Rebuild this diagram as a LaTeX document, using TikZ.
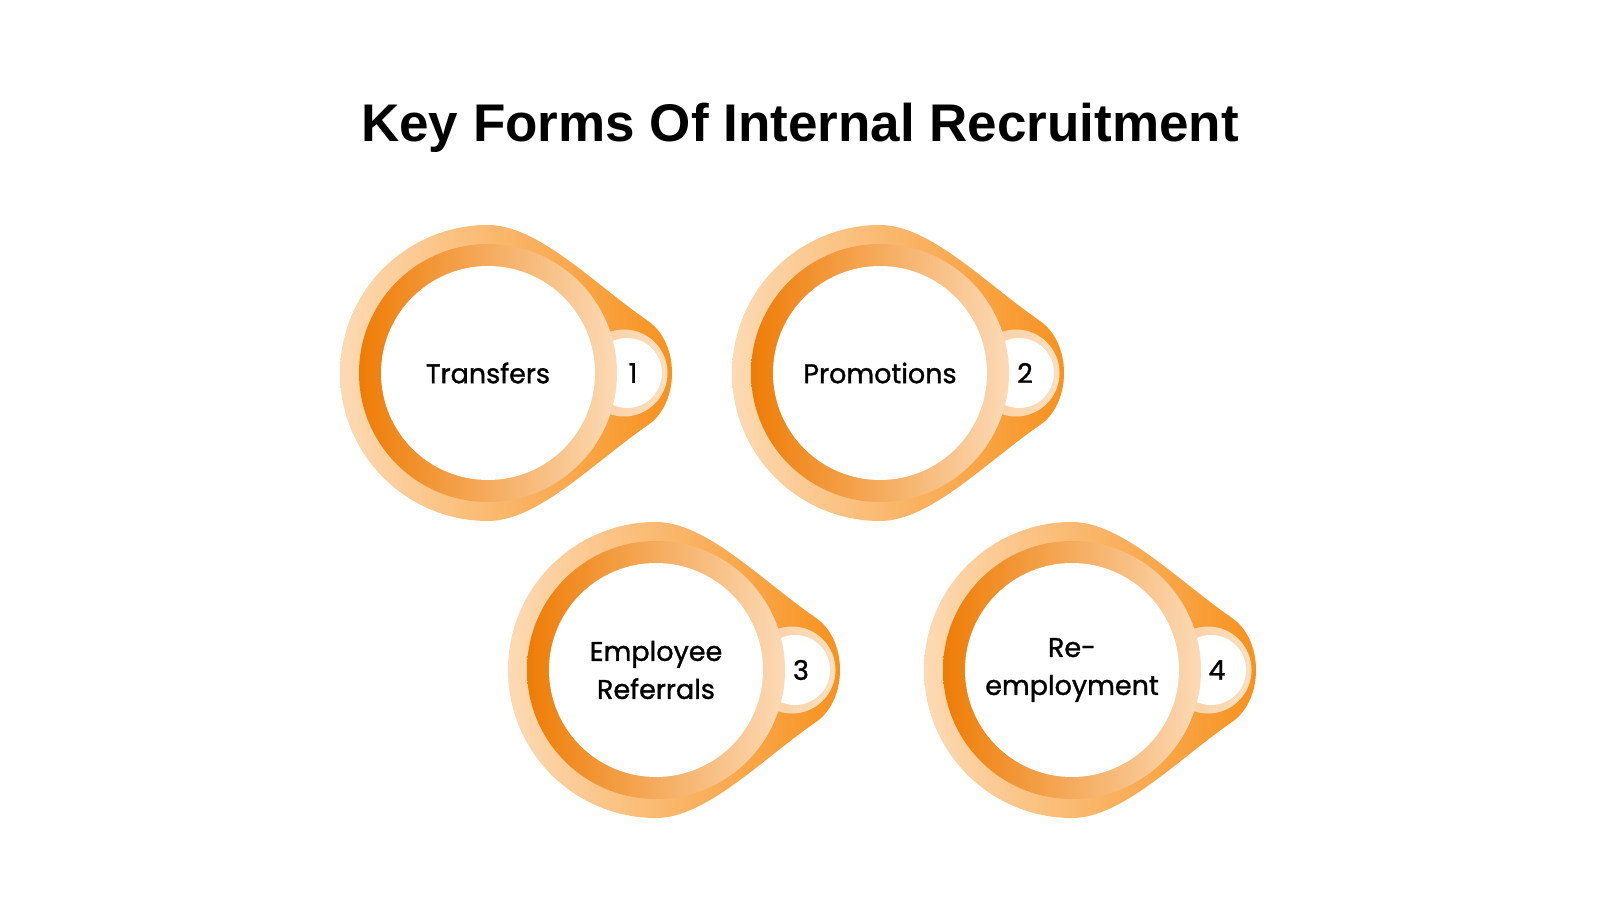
\documentclass[tikz,border=0pt]{standalone}
\usepackage{fontspec}
\setmainfont{Poppins}
\newfontfamily\titlefont{Liberation Sans}
\usetikzlibrary{positioning}

\definecolor{peach}{HTML}{FDDAB4}
\definecolor{tiporange}{HTML}{F7901A}
\definecolor{ringdark}{HTML}{EE7C05}
\definecolor{ringlight}{HTML}{FCDAB6}
\definecolor{smallring}{HTML}{FBCB98}

\begin{document}
\begin{tikzpicture}[x=1pt, y=1pt,
    labelcirc/.style={circle, fill=white, minimum size=214pt, inner sep=0pt, align=center, font=\fontsize{27}{38}\selectfont\addfontfeature{FakeBold=1.2}},
    numcirc/.style={circle, fill=white, minimum size=70pt, inner sep=0pt, font=\fontsize{27}{30}\selectfont\addfontfeature{FakeBold=1.2}}]
  \fill[white] (0,0) rectangle (1600,900);
  \useasboundingbox (0,0) rectangle (1600,900);
  \node (title) at (800,772) {\titlefont\bfseries\fontsize{53}{60}\selectfont Key Forms Of Internal Recruitment};
  \foreach \cx/\cy/\txt/\n in {488/527/Transfers/1, 880/527/Promotions/2, 656/230/{Employee\\Referrals}/3, 1072/230/{Re-\\employment}/4}{
    \begin{scope}[shift={(\cx,\cy)}]
      % drop shape behind the ring
      \shade[left color=peach, right color=tiporange] (0,148) .. controls (50,148) and (105,90) .. (160,52)
        .. controls (192,30) and (192,-30) .. (160,-52)
        .. controls (105,-90) and (50,-148) .. (0,-148)
        arc[start angle=-90, end angle=-270, radius=148] -- cycle;
      \shade[left color=smallring, right color=white!40!smallring] (136,0) circle (43.5);
      \node[numcirc] (num\n) at (139,0) {\hspace*{12pt}\n};
      \shade[left color=ringdark, right color=ringlight] (0,0) circle (129);
      \node[labelcirc] (lbl\n) at (0,0) {\txt};
    \end{scope}
  }
\end{tikzpicture}
\end{document}
